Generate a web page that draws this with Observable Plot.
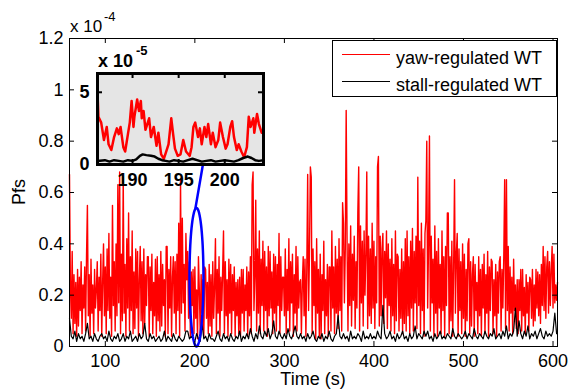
<!DOCTYPE html>
<html><head><meta charset="utf-8">
<script src="https://cdn.jsdelivr.net/npm/d3@7"></script>
<script src="https://cdn.jsdelivr.net/npm/@observablehq/plot@0.6"></script>
<style>
body{margin:0;background:#fff;}
#wrap{position:relative;width:568px;height:392px;font-family:"Liberation Sans",Arial,Helvetica,sans-serif;}
#wrap svg{position:absolute;left:0;top:0;}
</style></head><body><div id="wrap"></div>
<script>
// ---- data (values in units of 1e-6; axis shows x 10^-4) ----
const startTime = 60;          // s
const redStep = 1;             // s between red samples
const blackStep = 2;           // s between black samples
const yawRegulated = [
67,24,11,37,5,28,9,25,4,30, 8,27,14,33,5,24,15,31,6,35, 55,12,28,4,34,13,24,5,30,15,
22,33,6,27,14,36,4,25,40,12, 31,5,38,14,44,11,27,4,55,16, 33,6,40,12,63,17,68,5,36,10,
66,13,32,4,42,15,52,6,35,14, 45,5,29,7,38,15,37,4,26,39, 10,33,5,38,9,28,16,35,35,4,
31,14,36,5,25,12,34,4,35,10, 28,6,37,8,32,16,26,4,39,39, 5,30,15,35,4,27,35,13,33,5,
36,14,48,4,65,13,50,17,32,6, 44,26,37,11,33,4,29,16,30,5, 31,11,22,3,35,22,5,28,13,26,
4,31,30,11,25,5,32,8,28,4, 33,11,23,42,5,30,13,35,4,27, 14,29,45,5,33,12,26,4,34,13,
32,5,28,14,31,4,25,12,26,5, 27,4,30,13,30,6,24,14,31,4, 29,12,35,5,63,68,14,27,57,6,
38,13,45,5,34,16,41,6,37,14, 31,4,39,12,37,15,29,5,36,13, 35,6,32,16,44,5,35,14,27,27,
12,38,5,30,14,42,6,33,17,36, 4,28,13,39,6,35,15,25,26,5, 24,35,12,34,4,30,67,14,36,70,
66,5,38,16,33,3,42,13,30,4, 36,3,28,14,41,5,26,12,32,4, 31,31,6,45,15,31,5,39,13,34,
7,42,14,35,6,56,48,17,38,92, 40,6,40,16,47,8,36,18,43,7, 33,15,52,70,6,47,17,41,8,45,
20,36,68,7,43,12,38,9,48,15, 41,7,35,17,70,74,8,43,12,38, 44,9,37,19,45,7,40,16,34,6,
42,12,32,5,45,10,36,35,6,30, 11,38,5,33,9,42,6,45,12,35, 5,41,15,46,6,37,17,43,7,66,
16,41,5,48,14,38,4,44,49,80, 15,40,82,6,43,17,34,4,47,13, 37,4,42,15,32,5,45,14,35,4,
39,16,52,52,5,35,10,41,4,31, 65,13,36,44,4,38,14,33,5,40, 11,36,4,30,10,40,42,5,33,8,
28,35,4,32,14,25,5,35,12,30, 4,32,15,36,5,28,13,37,4,31, 14,34,33,5,26,12,32,4,29,13,
33,35,6,30,15,35,65,7,65,14, 39,6,31,13,27,5,34,14,24,7, 26,5,26,14,30,6,30,12,23,5,
28,13,25,6,27,26,11,30,8,24, 10,30,15,29,12,28,9,32,16,39, 14,35,11,31,37,13,33,16,30,39,
15,36,17,24,18,25
];
const stallRegulated = [
11,4,3,6,2,5,3,4,2,5, 9,3,4,2,5,3,2,4,5,3, 4,2,6,3,2,4,3,5,2,3,
5,2,4,3,6,2,3,4,2,5, 3,4,9,3,2,5,3,4,2,3, 4,2,3,6,2,4,3,2,5,3,
2,4,3,2,3,6,6,3,4,3, 2,5,3,2,9,3,4,2,5,3, 3,2,4,6,3,2,5,3,4,2,
5,3,2,4,3,6,2,4,3,5, 3,7,4,2,5,3,8,4,3,6, 4,7,3,5,10,4,3,6,4,3,
5,3,7,4,3,5,8,4,3,5, 3,4,2,5,3,4,6,3,2,4, 3,5,2,4,3,6,3,2,4,5,
12,4,3,5,3,4,2,6,3,4, 3,5,4,2,6,3,4,3,5,3, 4,3,6,4,3,16,5,3,4,6,
3,4,2,5,3,4,6,3,4,2, 5,3,4,8,3,5,4,3,6,4, 6,3,4,2,5,3,4,6,3,4,
3,5,4,3,7,4,3,5,4,3, 4,6,3,5,4,3,7,4,3,5, 4,3,6,4,3,5,4,7,3,4,
5,3,6,4,8,3,5,4,6,15, 4,10,5,3,6,4,8,3,5,4, 6,3,5,7,4,3,6,4,5,4,
6,13,5
];
// inset (zoom of 186-204 s), values in units of 1e-5
const insetRedTime = [186.2,186.3,186.6,186.9,187.2,187.4,187.7,188.0,188.3,188.5,188.7,189.0,189.2,189.5,189.7,189.9,190.1,190.2,190.5,190.7,190.9,191.0,191.2,191.4,191.8,192.0,192.3,192.6,192.8,193.1,193.4,193.7,193.9,194.2,194.4,194.6,194.9,195.2,195.5,195.8,196.2,196.4,196.6,196.8,197.1,197.3,197.5,197.8,198.0,198.2,198.5,198.7,199.0,199.3,199.5,199.8,200.1,200.3,200.6,200.8,201.0,201.3,201.5,201.8,202.1,202.4,202.6,202.8,203.1,203.2,203.5,203.7,204.0];
const insetRed = [5.0,3.3,2.9,1.7,2.6,1.4,1.0,1.9,2.5,2.1,2.6,1.2,0.9,2.1,2.9,4.4,2.6,3.3,4.5,3.7,4.4,3.2,3.7,2.4,3.2,1.9,2.6,1.3,2.2,0.7,0.4,1.0,1.4,3.2,2.1,1.1,0.6,0.7,1.7,0.9,0.6,1.2,2.6,2.9,1.9,2.5,1.4,2.6,1.9,2.8,1.4,2.2,1.2,1.7,2.9,1.9,1.1,1.4,2.6,3.0,1.9,1.0,1.4,0.9,0.5,1.2,3.3,2.6,3.2,2.2,3.5,2.8,2.2];
const insetBlackTime = [186.2,187,187.5,188,188.5,189,189.5,190,190.4,190.8,191.1,191.5,192,192.4,192.8,193.2,193.6,194,194.5,195,195.5,196,196.5,197,197.5,198,198.5,199,199.5,200,200.5,201,201.5,202,202.5,202.9,203.3,203.7,204.2];
const insetBlack = [0.25,0.3,0.2,0.3,0.25,0.2,0.3,0.25,0.35,0.6,0.7,0.65,0.6,0.55,0.4,0.3,0.25,0.2,0.3,0.25,0.2,0.3,0.4,0.3,0.2,0.25,0.3,0.2,0.25,0.3,0.25,0.2,0.3,0.45,0.55,0.45,0.3,0.25,0.3];
// axis ticks
const xTicks = [100,200,300,400,500,600];
const yTicks = [0,0.2,0.4,0.6,0.8,1,1.2];
const insetXTicks = [190,195,200];
const insetYTicks = [0,5];
// annotation: blue ellipse (s, 1e-6) and connector
const ellipseCenter = [201.8, 27];
const ellipseRadius = [7.8, 27];
const connectorTime = [200.7, 211.5];
const connectorValue = [54, 76];
const seriesNames = ["yaw-regulated WT", "stall-regulated WT"];
const seriesColors = ["#ff0000", "#000000"];

// ---- build ----
const W = 568, H = 392;
const FONT = '"Liberation Sans", Arial, Helvetica, sans-serif';
const mL = 69, mR = 11, mT = 38, mB = 46;
const fw = W - mL - mR, fh = H - mT - mB;
const toAxis = v => v / 100; // 1e-6 -> 1e-4 axis units
const redData = yawRegulated.map((v, i) => ({t: startTime + i * redStep, v: toAxis(v)}));
const blackData = stallRegulated.map((v, i) => ({t: startTime + i * blackStep, v: toAxis(v)}));
const ellData = d3.range(0, 81).map(k => {
  const a = k / 80 * 2 * Math.PI;
  return {t: ellipseCenter[0] + ellipseRadius[0] * Math.cos(a), v: toAxis(ellipseCenter[1] + ellipseRadius[1] * Math.sin(a))};
});
const connData = connectorTime.map((t, i) => ({t, v: toAxis(connectorValue[i])}));
const fmt = d => String(+d.toFixed(2));

const main = Plot.plot({
  width: W, height: H, marginLeft: mL, marginRight: mR, marginTop: mT, marginBottom: mB,
  style: {fontFamily: FONT, fontSize: "18px", background: "transparent", color: "black", overflow: "visible"},
  x: {domain: [60, 605], ticks: xTicks, tickSize: 0, tickPadding: 8, label: null, tickFormat: fmt},
  y: {domain: [0, 1.2], ticks: yTicks, tickSize: 0, tickPadding: 6, label: null, tickFormat: fmt},
  marks: [
    Plot.line(redData, {x: "t", y: "v", stroke: seriesColors[0], strokeWidth: 1.4}),
    Plot.line(blackData, {x: "t", y: "v", stroke: seriesColors[1], strokeWidth: 1.2}),
    Plot.line(ellData, {x: "t", y: "v", stroke: "#0000ff", strokeWidth: 2.5}),
    Plot.line(connData, {x: "t", y: "v", stroke: "#0000ff", strokeWidth: 2.5}),
    Plot.ruleX(xTicks, {x: d => d, stroke: "black", insetTop: fh - 5}),
    Plot.ruleX(xTicks, {x: d => d, stroke: "black", insetBottom: fh - 5}),
    Plot.ruleY(yTicks, {y: d => d, stroke: "black", insetRight: fw - 5}),
    Plot.ruleY(yTicks, {y: d => d, stroke: "black", insetLeft: fw - 5}),
    Plot.frame({stroke: "black", strokeWidth: 1})
  ]
});

const s = d3.select(main);
function txt(sel, x, y, str, o = {}) {
  const t = sel.append("text").attr("x", x).attr("y", y).text(str)
    .attr("font-family", FONT).attr("font-size", o.size || 18).attr("fill", "black")
    .attr("text-anchor", o.anchor || "start");
  if (o.bold) t.attr("font-weight", "bold");
  if (o.rotate) t.attr("transform", `rotate(${o.rotate},${x},${y})`);
  return t;
}
// exponent label
txt(s, 70, 32, "x 10", {size: 17});
txt(s, 104, 21, "-4", {size: 13});
// axis titles
txt(s, 25, (mT + H - mB) / 2, "Pfs", {anchor: "middle", rotate: -90});
txt(s, mL + fw / 2, 385, "Time (s)", {anchor: "middle"});
// legend
const lg = s.append("g");
lg.append("rect").attr("x", 332.5).attr("y", 40.5).attr("width", 224).attr("height", 56)
  .attr("fill", "white").attr("stroke", "black").attr("stroke-width", 1);
[54.5, 81.5].forEach((yy, i) => {
  lg.append("line").attr("x1", 342).attr("x2", 390).attr("y1", yy).attr("y2", yy)
    .attr("stroke", seriesColors[i]).attr("stroke-width", 1);
  txt(lg, 396, yy + 9.5, seriesNames[i]);
});

// ---- inset ----
const iL = 97, iR = W - 263, iT = 73, iB = H - 164;
const ifw = W - iL - iR, ifh = H - iT - iB;
const insetRedData = insetRedTime.map((t, i) => ({t, v: insetRed[i]}));
const insetBlackData = insetBlackTime.map((t, i) => ({t, v: insetBlack[i]}));
const inset = Plot.plot({
  width: W, height: H, marginLeft: iL, marginRight: iR, marginTop: iT, marginBottom: iB,
  style: {fontFamily: FONT, fontSize: "18px", fontWeight: "bold", background: "transparent", color: "black", overflow: "visible"},
  x: {domain: [186.2, 204.2], ticks: insetXTicks, tickSize: 0, tickPadding: 9, label: null, tickFormat: fmt},
  y: {domain: [0, 6.3], ticks: insetYTicks, tickSize: 0, tickPadding: 8, label: null, tickFormat: fmt},
  marks: [
    Plot.frame({fill: "#e5e5e5"}),
    Plot.line(insetRedData, {x: "t", y: "v", stroke: seriesColors[0], strokeWidth: 2.5}),
    Plot.line(insetBlackData, {x: "t", y: "v", stroke: seriesColors[1], strokeWidth: 2.5}),
    Plot.ruleX(insetXTicks, {x: d => d, stroke: "black", strokeWidth: 2, insetTop: ifh - 5}),
    Plot.ruleX(insetXTicks, {x: d => d, stroke: "black", strokeWidth: 2, insetBottom: ifh - 5}),
    Plot.ruleY(insetYTicks, {y: d => d, stroke: "black", strokeWidth: 2, insetRight: ifw - 5}),
    Plot.ruleY(insetYTicks, {y: d => d, stroke: "black", strokeWidth: 2, insetLeft: ifw - 5}),
    Plot.frame({stroke: "black", strokeWidth: 3})
  ]
});
const si = d3.select(inset);
txt(si, 98, 67, "x 10", {size: 18, bold: true});
txt(si, 136, 55, "-5", {size: 13, bold: true});

const wrap = document.getElementById("wrap");
wrap.appendChild(main);
wrap.appendChild(inset);
</script></body></html>
